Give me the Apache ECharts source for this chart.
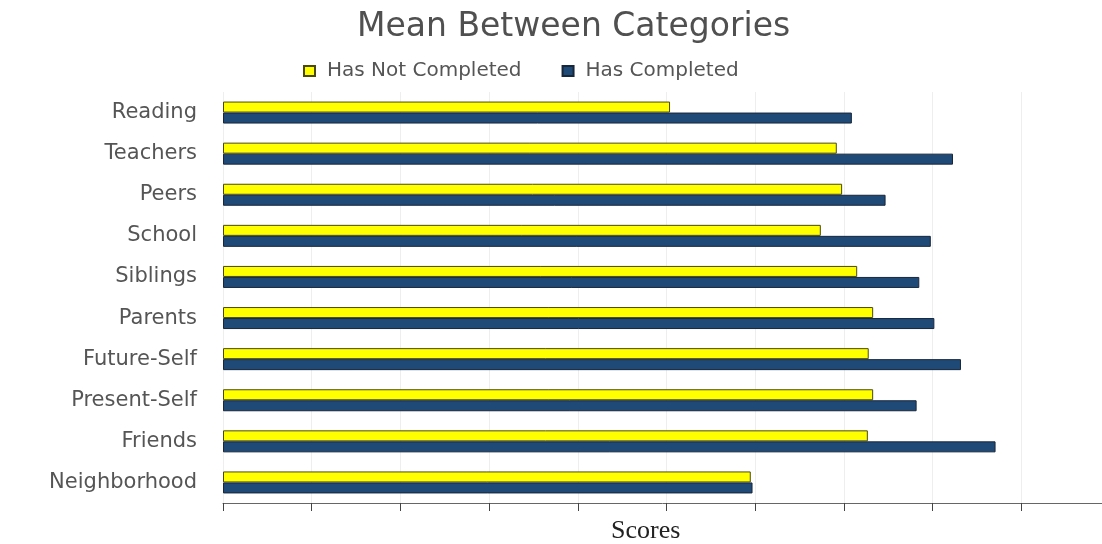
<!DOCTYPE html>
<html>
<head>
<meta charset="utf-8">
<script src="https://cdn.jsdelivr.net/npm/echarts@6/dist/echarts.min.js"></script>
<style>
  html, body { margin: 0; padding: 0; background: #fff; }
  #chartWrapper { width: 1102px; height: 544px; }
</style>
</head>
<body>
<div id="chartWrapper"></div>
<script>
// categories top to bottom
let categories = ['Reading', 'Teachers', 'Peers', 'School', 'Siblings', 'Parents',
    'Future-Self', 'Present-Self', 'Friends', 'Neighborhood'];
let notCompleted = [5.04, 6.92, 6.98, 6.74, 7.15, 7.33, 7.28, 7.33, 7.27, 5.95];
let completed = [7.09, 8.23, 7.47, 7.98, 7.85, 8.02, 8.32, 7.82, 8.71, 5.97];
let seriesNames = ['Has Not Completed', 'Has Completed'];

function initMeanChart() {
    let myChart = echarts.init(document.getElementById('chartWrapper'));
    let sans = 'DejaVu Sans';

    let option = {
        backgroundColor: '#fff',
        animation: false,
        title: [{
            text: 'Mean Between Categories',
            left: 352,
            top: 6,
            textStyle: { fontFamily: sans, fontSize: 33, fontWeight: 'normal', color: '#505050' }
        }, {
            text: 'Scores',
            left: 606,
            top: 513,
            textStyle: { fontFamily: 'Liberation Serif', fontSize: 26, fontWeight: 'normal', color: '#222' }
        }],
        legend: {
            data: seriesNames,
            icon: 'rect',
            left: 298,
            top: 56,
            itemWidth: 11,
            itemHeight: 10,
            itemGap: 40,
            textStyle: { fontFamily: sans, fontSize: 20, color: '#555', padding: [0, 0, 0, 7] }
        },
        grid: {
            left: 223,
            right: 0,
            top: 92,
            bottom: 41
        },
        xAxis: {
            type: 'value',
            min: 0,
            max: 9.91,
            interval: 1,
            axisLine: { show: true, lineStyle: { color: '#666', width: 1 } },
            axisTick: { show: true, length: 8, lineStyle: { color: '#444' } },
            axisLabel: { show: false },
            splitLine: { show: true, lineStyle: { color: '#eeeeee' } }
        },
        yAxis: {
            type: 'category',
            data: categories,
            inverse: true,
            axisLine: { show: false },
            axisTick: { show: false },
            axisLabel: { margin: 26, fontFamily: sans, fontSize: 21, color: '#555' }
        },
        series: [{
            name: seriesNames[0],
            type: 'bar',
            data: notCompleted,
            barWidth: 11,
            barGap: '0%',
            itemStyle: { color: '#ffff00', borderColor: '#4a4a10', borderWidth: 1 }
        }, {
            name: seriesNames[1],
            type: 'bar',
            data: completed,
            barWidth: 11,
            barGap: '0%',
            itemStyle: { color: '#1f4a78', borderColor: '#18263a', borderWidth: 1 }
        }]
    };

    myChart.setOption(option);
}

initMeanChart();
</script>
</body>
</html>
